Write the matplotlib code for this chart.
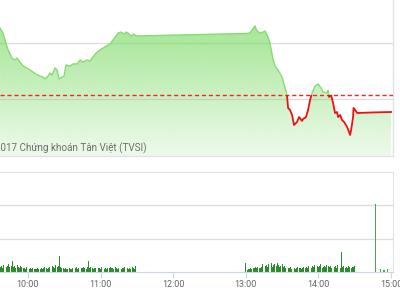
import matplotlib
matplotlib.use("Agg")
import matplotlib.pyplot as plt
import numpy as np
from matplotlib.patches import Rectangle

# time in minutes after 9:00
price_time = [36.9, 39.3, 41.0, 43.5, 46.8, 49.3, 50.9, 53.4, 55.9, 59.2,
              61.7, 64.1, 66.6, 69.9, 72.4, 74.0, 76.5, 78.2, 79.8, 82.3,
              84.0, 85.6, 88.1, 89.8, 91.4, 94.7, 97.2, 100.5, 103.0, 105.5,
              108.8, 111.2, 113.7, 116.2, 119.5, 122.0, 124.5, 127.8, 130.2, 132.7,
              134.4, 136.9, 139.3, 141.0, 142.6, 145.1, 147.6, 149.3, 150.0,
              240.0, 243.3, 245.1, 247.6, 249.2, 251.7, 254.2, 255.9, 258.3, 260.0,
              262.5, 264.1, 266.6, 269.9, 272.4, 274.0, 274.9, 276.5, 278.2, 279.8,
              282.3, 284.0, 286.4, 287.3, 289.7, 291.4, 293.1, 294.7, 297.2, 299.7,
              302.1, 303.8, 307.1, 307.9, 308.8, 310.4, 312.1, 313.7, 315.4, 316.2,
              317.9, 319.5, 321.2, 323.7, 325.3, 326.1, 327.0, 328.6, 329.0, 330.3,
              332.0, 345.0, 360.0]
price = [786.34, 785.89, 785.27, 784.38, 783.66, 783.48, 783.66, 783.30, 782.95, 782.77,
         782.59, 782.41, 782.23, 782.05, 781.96, 781.79, 782.05, 782.32, 782.14, 782.77,
         782.59, 781.79, 781.96, 782.05, 783.04, 782.95, 783.13, 783.13, 783.48, 783.30,
         783.48, 783.39, 783.75, 784.11, 784.38, 784.55, 784.73, 784.91, 785.27, 785.63,
         785.89, 785.98, 785.80, 785.98, 785.89, 785.63, 785.80, 785.63, 785.63,
         785.85, 785.89, 786.16, 786.52, 786.07, 785.89, 785.98, 786.07, 785.54, 785.00,
         783.48, 782.95, 782.59, 781.96, 780.98, 780.36, 779.20, 779.02, 778.57, 777.68,
         777.95, 778.39, 778.04, 778.21, 778.39, 779.02, 779.91, 780.54, 781.16, 781.34,
         780.98, 780.63, 780.54, 780.80, 780.18, 780.36, 779.64, 778.75, 778.84, 778.39,
         778.57, 778.12, 777.95, 777.50, 777.05, 776.79, 777.23, 778.39, 779.20, 779.02,
         778.75, 778.80, 778.84]
ref_price = 780.36

# volume (thousand shares), one bar per minute
vol_am_start = 37   # 9:37
vol_am = [300, 360, 240, 420, 1020, 300, 360, 480, 300, 360,
          660, 300, 360, 240, 420, 300, 240, 360, 300, 240,
          240, 180, 300, 240, 180, 240, 180, 240, 180, 180,
          180, 240, 180, 180, 240, 180, 240, 300, 240, 180,
          240, 300, 240, 360, 300, 240, 420, 300, 360, 960,
          300, 240, 240, 180, 240, 180, 180, 240, 180, 180,
          240, 180, 240, 300, 180, 240, 180, 240, 240, 300,
          240, 180, 300, 660, 240, 300, 240, 180, 240, 240,
          180, 240, 240, 180, 300, 240, 180, 240, 180, 240,
          240, 300, 240, 240, 180, 300, 240, 180, 240, 240,
          180, 240, 240, 300, 180, 240, 180, 240, 180, 300,
          240, 180, 360]
vol_pm_start = 240  # 13:00
vol_pm = [540, 120, 180, 180, 240, 180, 240, 240, 300, 240,
          300, 240, 240, 300, 480, 300, 360, 420, 300, 480,
          360, 540, 300, 420, 480, 360, 540, 420, 300, 360,
          480, 300, 360, 240, 300, 240, 240, 300, 180, 240,
          240, 180, 240, 300, 240, 240, 180, 240, 300, 240,
          300, 240, 360, 300, 240, 360, 300, 420, 300, 360,
          300, 360, 480, 240, 300, 360, 300, 420, 360, 300,
          360, 240, 720, 300, 360, 240, 420, 300, 240, 1200,
          300, 360, 240, 300, 240, 360, 300, 240, 300, 300,
          360]
vol_late_time = [346.8, 350.9, 354.2, 356.7]
vol_late = [4080, 180, 120, 180]

tick_pos = [60, 120, 180, 240, 300, 360]
tick_labels = ['10:00', '11:00', '12:00', '13:00', '14:00', '15:00']

xmin, xmax = 36.86, 361.6
ymin, ymax = 774.91, 788.84
grid_c = '#dcdcdc'
border_c = '#e0e3e6'

plt.rcParams['font.family'] = ['Roboto', 'DejaVu Sans']
fig = plt.figure(figsize=(4, 3), dpi=100)

# ---- price panel
ax = fig.add_axes([0, 0.48, 0.9825, 0.52])
ax.set_xlim(xmin, xmax)
ax.set_ylim(ymin, ymax)
for y in [780, 785]:
    ax.axhline(y, color=grid_c, lw=0.9, zorder=1)

poly = ax.fill_between(price_time, price, ymin, facecolor='none', lw=0)
grad = np.zeros((256, 1, 4))
grad[:, 0, 0] = 110 / 255
grad[:, 0, 1] = 215 / 255
grad[:, 0, 2] = 85 / 255
grad[:, 0, 3] = np.linspace(0.72, 0.12, 256)
im = ax.imshow(grad, extent=[xmin, xmax, ymin, ymax], aspect='auto',
               origin='upper', zorder=2)
im.set_clip_path(poly.get_paths()[0], transform=ax.transData)

ax.axhline(ref_price, color='#ff2020', lw=1.0, dashes=(3, 2), zorder=3)

green, = ax.plot(price_time, price, color='#86dc72', lw=1.0, zorder=4)
green.set_clip_path(Rectangle((xmin, ref_price), xmax - xmin, ymax - ref_price,
                              transform=ax.transData))
red, = ax.plot(price_time, price, color='#ee1111', lw=1.3, zorder=4)
red.set_clip_path(Rectangle((xmin, ymin), xmax - xmin, ref_price - ymin,
                            transform=ax.transData))

ax.set_xticks([])
ax.set_yticks([])
for s in ['left', 'top']:
    ax.spines[s].set_visible(False)
for s in ['right', 'bottom']:
    ax.spines[s].set_color(border_c)
    ax.spines[s].set_linewidth(1.0)

fig.text(147 / 400, 1 - 148 / 300, '©2017 Chứng khoán Tân Việt (TVSI)',
         ha='right', va='center', fontsize=7.1, color='#6e6e6e')

# ---- volume panel
bx = fig.add_axes([0, 0.0933, 0.9825, 0.3334])
bx.set_xlim(xmin, xmax)
bx.set_ylim(0, 6000)
for y in [2000, 4000]:
    bx.axhline(y, color=grid_c, lw=0.9, zorder=1)
am_t = [vol_am_start + i for i in range(len(vol_am))]
pm_t = [vol_pm_start + i for i in range(len(vol_pm))]
bar_c = '#2a8c2a'
bx.bar(am_t, vol_am, width=0.75, color=bar_c, lw=0, zorder=2)
bx.bar(pm_t, vol_pm, width=0.75, color=bar_c, lw=0, zorder=2)
bx.bar(vol_late_time, vol_late, width=0.9, color='#4aa84a', lw=0, zorder=2)

bx.set_yticks([])
bx.set_xticks(tick_pos)
bx.set_xticklabels(tick_labels)
bx.tick_params(axis='x', length=4, width=0.8, color='#ccd6eb', pad=2,
               labelsize=6.5, labelcolor='#666666')
bx.spines['left'].set_visible(False)
for s in ['right', 'top']:
    bx.spines[s].set_color(border_c)
bx.spines['bottom'].set_color('#ccd6eb')

fig.savefig('out.png', dpi=100)
